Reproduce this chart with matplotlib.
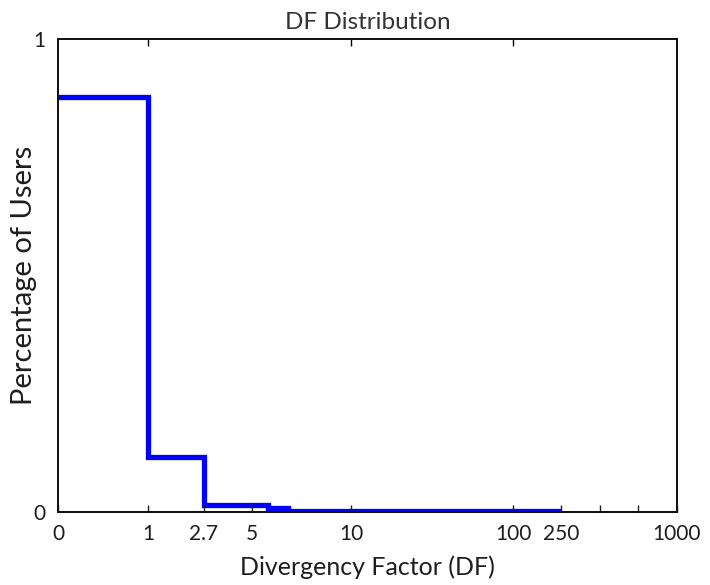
import numpy as np
import matplotlib.pyplot as plt
from matplotlib.scale import FuncScale

# step edges (divergency factor) and share of users in each bin
df_edges = [0, 1, 2.7, 5.8, 6.8, 250]
user_share = [0.877, 0.116, 0.014, 0.009, 0.003]

tick_vals = [0, 1, 2.7, 5, 10, 100, 250, 500, 750, 1000]
tick_labels = ['0', '1', '2.7', '5', '10', '100', '250', '', '', '1000']
top_ticks = [1, 10, 100]

# piecewise axis: each labelled value gets its own slot along the axis
anchor_vals = np.array([0, 1, 2.7, 5, 10, 100, 250, 1000])
anchor_pos = np.array([0, 90, 146, 194, 293, 455, 503, 619]) / 619.0


def fwd(x):
    return np.interp(x, anchor_vals, anchor_pos)


def inv(p):
    return np.interp(p, anchor_pos, anchor_vals)


plt.rcParams['font.family'] = ['Lato', 'DejaVu Sans']
txt = '#1e1e1e'

fig = plt.figure(figsize=(7.1, 5.85), dpi=100)
ax = fig.add_axes([58 / 710, 73 / 585, 619 / 710, 473 / 585])

ax.stairs(user_share, df_edges, baseline=None, color='#0000ff', linewidth=3.8)

ax.set_xscale(FuncScale(ax, (fwd, inv)))
ax.set_xlim(0, 1000)
ax.set_ylim(0, 1)

ax.set_xticks(tick_vals)
ax.set_xticklabels(tick_labels)
ax.set_yticks([0, 1])
ax.set_yticklabels(['0', '1'])
ax.tick_params(axis='x', direction='in', length=5, width=1, labelsize=15, pad=9,
               colors=txt)
ax.tick_params(axis='y', length=0, labelsize=15, pad=9, colors=txt)

# top edge only carries the decade ticks
ax_top = ax.twiny()
ax_top.set_xscale(FuncScale(ax_top, (fwd, inv)))
ax_top.set_xlim(0, 1000)
ax_top.set_xticks(top_ticks)
ax_top.tick_params(direction='in', length=5, width=1, labeltop=False)

for a in (ax, ax_top):
    for s in a.spines.values():
        s.set_linewidth(1.3)
        s.set_color('#111111')

ax_top.set_title('DF Distribution', fontsize=17.5, pad=7, color='#333333')
ax.set_xlabel('Divergency Factor (DF)', fontsize=18, labelpad=8, color=txt)
ax.set_ylabel('Percentage of Users', fontsize=21, color=txt)
ax.yaxis.set_label_coords(-0.034, 0.5)

fig.savefig('out.png', dpi=100)
